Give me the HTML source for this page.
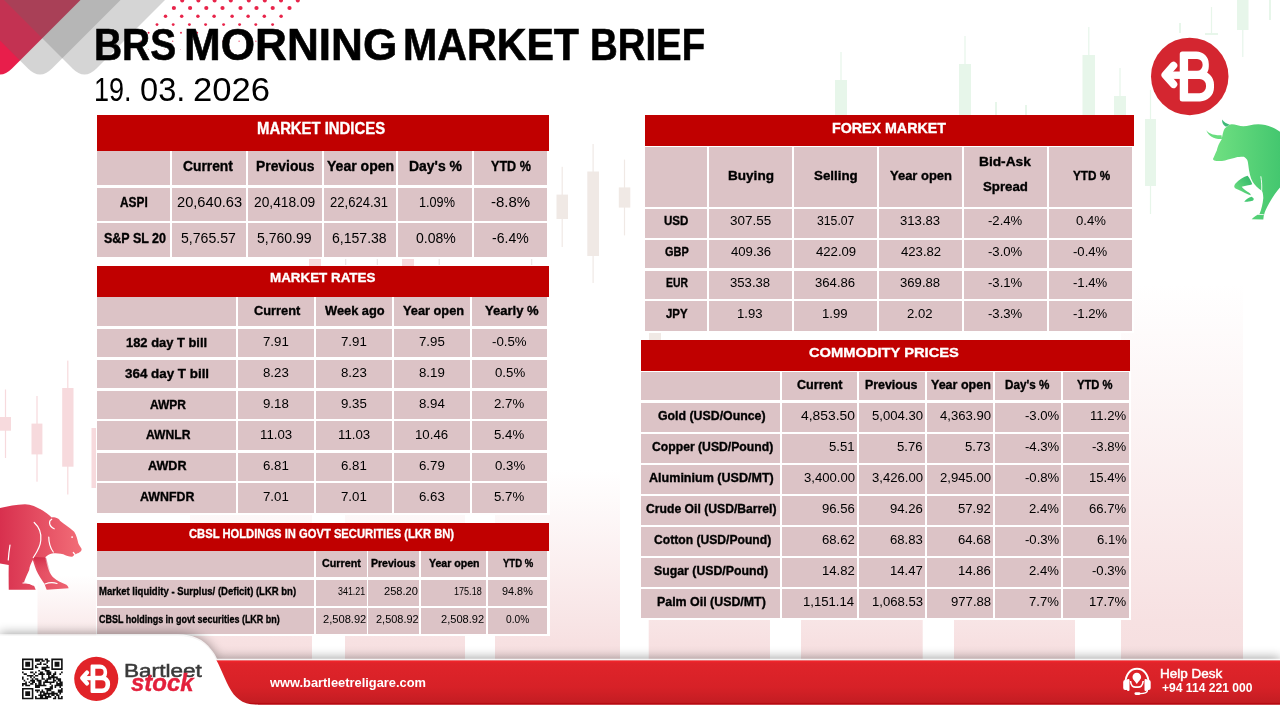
<!DOCTYPE html>
<html><head><meta charset="utf-8"><style>
html,body{margin:0;padding:0;}
body{width:1280px;height:720px;position:relative;overflow:hidden;background:#fff;font-family:"Liberation Sans",sans-serif;}
.w{position:absolute;white-space:nowrap;transform-origin:0 50%;}
</style></head><body>
<svg style="position:absolute;left:0;top:0" width="1280" height="720" viewBox="0 0 1280 720"><defs><linearGradient id="pbar" x1="0" y1="0" x2="0" y2="1"><stop offset="0" stop-color="#f8e3e4" stop-opacity="0"/><stop offset="0.9" stop-color="#f7e1e2" stop-opacity="1"/><stop offset="1" stop-color="#f6dfe0" stop-opacity="1"/></linearGradient><linearGradient id="shadow" x1="0" y1="0" x2="0" y2="1"><stop offset="0" stop-color="#000" stop-opacity="0"/><stop offset="1" stop-color="#000" stop-opacity="0.13"/></linearGradient></defs>
<rect x="37.5" y="575" width="59.5" height="85" fill="url(#pbar)"/>
<rect x="190" y="470" width="122.0" height="190" fill="url(#pbar)"/>
<rect x="345" y="470" width="120.0" height="190" fill="url(#pbar)"/>
<rect x="495" y="470" width="125.0" height="190" fill="url(#pbar)"/>
<rect x="648.7" y="470" width="121.3" height="190" fill="url(#pbar)"/>
<rect x="801" y="470" width="121.7" height="190" fill="url(#pbar)"/>
<rect x="954" y="470" width="121.0" height="190" fill="url(#pbar)"/>
<rect x="1121" y="284" width="122.0" height="376" fill="url(#pbar)"/><rect x="840.4" y="52" width="1.2" height="66.0" fill="#e7f6ea"/>
<rect x="835" y="80" width="12.0" height="38.0" fill="#e7f6ea"/>
<rect x="964.4" y="36" width="1.2" height="82.0" fill="#e7f6ea"/>
<rect x="959" y="64" width="12.0" height="54.0" fill="#e7f6ea"/>
<rect x="995.4" y="102" width="1.2" height="16.0" fill="#e7f6ea"/>
<rect x="995" y="102" width="2.0" height="16.0" fill="#e7f6ea"/>
<rect x="1025.4" y="105" width="1.2" height="13.0" fill="#e7f6ea"/>
<rect x="1025" y="105" width="2.0" height="13.0" fill="#e7f6ea"/>
<rect x="1088.2" y="27" width="1.2" height="91.0" fill="#e7f6ea"/>
<rect x="1082.5" y="55" width="12.5" height="63.0" fill="#e7f6ea"/>
<rect x="1119.4" y="68" width="1.2" height="50.0" fill="#e7f6ea"/>
<rect x="1114" y="96" width="12.0" height="22.0" fill="#e7f6ea"/>
<rect x="1149.9" y="90" width="1.2" height="124.0" fill="#e7f6ea"/>
<rect x="1145" y="119" width="11.0" height="67.0" fill="#e7f6ea"/>
<rect x="1242.2" y="0" width="1.2" height="57.0" fill="#e7f6ea"/>
<rect x="1237" y="0" width="11.5" height="30.0" fill="#e7f6ea"/>
<rect x="1210.9" y="7" width="1.2" height="28.0" fill="#e7f6ea"/>
<rect x="1205" y="33" width="13.0" height="2.0" fill="#e7f6ea"/>
<rect x="1179.4" y="23" width="1.2" height="10.0" fill="#e7f6ea"/>
<rect x="1179" y="23" width="2.0" height="10.0" fill="#e7f6ea"/>
<rect x="1269.4" y="0" width="1.2" height="20.0" fill="#e7f6ea"/>
<rect x="1269" y="0" width="2.0" height="20.0" fill="#e7f6ea"/>
<rect x="561.6" y="166.8" width="1.2" height="80.2" fill="#f0e9e5"/>
<rect x="556.5" y="194.6" width="11.5" height="24.4" fill="#f0e9e5"/>
<rect x="592.5" y="144" width="1.2" height="139.0" fill="#f0e9e5"/>
<rect x="587.3" y="171.5" width="11.7" height="84.5" fill="#f0e9e5"/>
<rect x="623.9" y="159.6" width="1.2" height="75.8" fill="#f0e9e5"/>
<rect x="618.8" y="187.4" width="11.5" height="20.2" fill="#f0e9e5"/>
<rect x="654.4" y="333" width="1.2" height="7.0" fill="#f0e9e5"/>
<rect x="649" y="333" width="12.0" height="7.0" fill="#f0e9e5"/>
<rect x="4.9" y="389.5" width="1.2" height="68.5" fill="#f7dadd"/>
<rect x="0" y="417" width="11.0" height="13.7" fill="#f7dadd"/>
<rect x="36.4" y="396" width="1.2" height="85.7" fill="#f7dadd"/>
<rect x="31.5" y="423.6" width="10.9" height="30.8" fill="#f7dadd"/>
<rect x="67.2" y="360.6" width="1.2" height="133.9" fill="#f7dadd"/>
<rect x="62.2" y="388" width="11.3" height="78.7" fill="#f7dadd"/>
<rect x="93.7" y="428" width="1.2" height="60.0" fill="#f7dadd"/>
<rect x="91.5" y="428" width="5.5" height="60.0" fill="#f7dadd"/>
<rect x="314.4" y="256" width="1.2" height="10.0" fill="#f7dadd"/>
<rect x="309" y="256" width="12.0" height="10.0" fill="#f7dadd"/>
<rect x="407.4" y="256" width="1.2" height="10.0" fill="#f7dadd"/>
<rect x="402" y="256" width="12.0" height="10.0" fill="#f7dadd"/>
<rect x="345.0" y="259" width="1.2" height="6.0" fill="#ece6e6"/>
<rect x="345.1" y="259" width="1.0" height="6.0" fill="#ece6e6"/>
<rect x="376.8" y="259" width="1.2" height="6.0" fill="#ece6e6"/>
<rect x="376.9" y="259" width="1.0" height="6.0" fill="#ece6e6"/>
<rect x="438.7" y="259" width="1.2" height="6.0" fill="#ece6e6"/>
<rect x="438.8" y="259" width="1.0" height="6.0" fill="#ece6e6"/>
<rect x="531.0" y="259" width="1.2" height="6.0" fill="#ece6e6"/>
<rect x="531.1" y="259" width="1.0" height="6.0" fill="#ece6e6"/><defs><linearGradient id="redg" x1="0" y1="1" x2="1" y2="0"><stop offset="0" stop-color="#ec1a4c"/><stop offset="1" stop-color="#d22a55"/></linearGradient></defs>
<path d="M-260.00,-179.50 L-12.02,68.48 Q0.00,80.50 12.02,68.48 L260.00,-179.50 Z" fill="#e81e4b" />
<path d="M-220.00,-179.50 L27.98,68.48 Q40.00,80.50 52.02,68.48 L300.00,-179.50 Z" fill="rgba(101,101,101,0.282)" />
<path d="M-175.50,-179.50 L72.48,68.48 Q84.50,80.50 96.52,68.48 L344.50,-179.50 Z" fill="rgba(101,101,101,0.275)" /><g fill="#e8244a"><circle cx="182.2" cy="0.4" r="2.0"/><circle cx="198.4" cy="0.4" r="2.0"/><circle cx="214.6" cy="0.4" r="2.0"/><circle cx="230.8" cy="0.4" r="2.0"/><circle cx="248.8" cy="0.4" r="2.0"/><circle cx="264.8" cy="0.4" r="2.0"/><circle cx="281.0" cy="0.4" r="2.0"/><circle cx="297.8" cy="0.4" r="2.0"/><circle cx="173.9" cy="8" r="2.1"/><circle cx="190.1" cy="8" r="2.1"/><circle cx="206.3" cy="8" r="2.1"/><circle cx="222.5" cy="8" r="2.1"/><circle cx="240.5" cy="8" r="2.1"/><circle cx="256.5" cy="8" r="2.1"/><circle cx="272.7" cy="8" r="2.1"/><circle cx="289.5" cy="8" r="2.1"/><circle cx="165.5" cy="16.3" r="1.75"/><circle cx="181.7" cy="16.3" r="1.75"/><circle cx="197.9" cy="16.3" r="1.75"/><circle cx="214.1" cy="16.3" r="1.75"/><circle cx="232.1" cy="16.3" r="1.75"/><circle cx="248.1" cy="16.3" r="1.75"/><circle cx="264.3" cy="16.3" r="1.75"/><circle cx="281.1" cy="16.3" r="1.75"/><circle cx="157.0" cy="24.6" r="1.45"/><circle cx="173.2" cy="24.6" r="1.45"/><circle cx="189.4" cy="24.6" r="1.45"/><circle cx="205.6" cy="24.6" r="1.45"/><circle cx="223.6" cy="24.6" r="1.45"/><circle cx="239.6" cy="24.6" r="1.45"/><circle cx="255.8" cy="24.6" r="1.45"/><circle cx="272.6" cy="24.6" r="1.45"/><circle cx="148.6" cy="32.8" r="0.95"/><circle cx="164.8" cy="32.8" r="0.95"/><circle cx="181.0" cy="32.8" r="0.95"/><circle cx="197.2" cy="32.8" r="0.95"/><circle cx="215.2" cy="32.8" r="0.95"/><circle cx="231.2" cy="32.8" r="0.95"/><circle cx="247.4" cy="32.8" r="0.95"/><circle cx="264.2" cy="32.8" r="0.95"/><circle cx="140.3" cy="41.2" r="0.6"/><circle cx="156.5" cy="41.2" r="0.6"/><circle cx="172.7" cy="41.2" r="0.6"/><circle cx="188.9" cy="41.2" r="0.6"/><circle cx="206.9" cy="41.2" r="0.6"/><circle cx="222.9" cy="41.2" r="0.6"/><circle cx="239.1" cy="41.2" r="0.6"/><circle cx="255.9" cy="41.2" r="0.6"/><circle cx="132.0" cy="49.4" r="0.35"/><circle cx="148.2" cy="49.4" r="0.35"/><circle cx="164.4" cy="49.4" r="0.35"/><circle cx="180.6" cy="49.4" r="0.35"/><circle cx="198.6" cy="49.4" r="0.35"/><circle cx="214.6" cy="49.4" r="0.35"/><circle cx="230.8" cy="49.4" r="0.35"/><circle cx="247.6" cy="49.4" r="0.35"/></g></svg>
<div style="position:absolute;left:96.00px;top:150.80px;width:453.50px;height:108.60px;background:#fff;"></div>
<div style="position:absolute;left:97.00px;top:115.00px;width:452.00px;height:35.80px;background:#c00000;"></div>
<div style="position:absolute;left:97.00px;top:151.30px;width:73.00px;height:33.45px;background:#dcc3c6;"></div>
<div style="position:absolute;left:172.00px;top:151.30px;width:74.00px;height:33.45px;background:#dcc3c6;"></div>
<div style="position:absolute;left:248.00px;top:151.30px;width:73.50px;height:33.45px;background:#dcc3c6;"></div>
<div style="position:absolute;left:323.50px;top:151.30px;width:72.50px;height:33.45px;background:#dcc3c6;"></div>
<div style="position:absolute;left:398.00px;top:151.30px;width:74.00px;height:33.45px;background:#dcc3c6;"></div>
<div style="position:absolute;left:474.00px;top:151.30px;width:73.00px;height:33.45px;background:#dcc3c6;"></div>
<div style="position:absolute;left:97.00px;top:187.90px;width:73.00px;height:32.70px;background:#dcc3c6;"></div>
<div style="position:absolute;left:172.00px;top:187.90px;width:74.00px;height:32.70px;background:#dcc3c6;"></div>
<div style="position:absolute;left:248.00px;top:187.90px;width:73.50px;height:32.70px;background:#dcc3c6;"></div>
<div style="position:absolute;left:323.50px;top:187.90px;width:72.50px;height:32.70px;background:#dcc3c6;"></div>
<div style="position:absolute;left:398.00px;top:187.90px;width:74.00px;height:32.70px;background:#dcc3c6;"></div>
<div style="position:absolute;left:474.00px;top:187.90px;width:73.00px;height:32.70px;background:#dcc3c6;"></div>
<div style="position:absolute;left:97.00px;top:223.10px;width:73.00px;height:33.80px;background:#dcc3c6;"></div>
<div style="position:absolute;left:172.00px;top:223.10px;width:74.00px;height:33.80px;background:#dcc3c6;"></div>
<div style="position:absolute;left:248.00px;top:223.10px;width:73.50px;height:33.80px;background:#dcc3c6;"></div>
<div style="position:absolute;left:323.50px;top:223.10px;width:72.50px;height:33.80px;background:#dcc3c6;"></div>
<div style="position:absolute;left:398.00px;top:223.10px;width:74.00px;height:33.80px;background:#dcc3c6;"></div>
<div style="position:absolute;left:474.00px;top:223.10px;width:73.00px;height:33.80px;background:#dcc3c6;"></div>
<div style="position:absolute;left:96.00px;top:296.70px;width:453.50px;height:218.80px;background:#fff;"></div>
<div style="position:absolute;left:97.00px;top:266.10px;width:452.00px;height:30.60px;background:#c00000;"></div>
<div style="position:absolute;left:97.00px;top:297.40px;width:139.00px;height:28.70px;background:#dcc3c6;"></div>
<div style="position:absolute;left:238.00px;top:297.40px;width:76.00px;height:28.70px;background:#dcc3c6;"></div>
<div style="position:absolute;left:316.00px;top:297.40px;width:76.00px;height:28.70px;background:#dcc3c6;"></div>
<div style="position:absolute;left:394.00px;top:297.40px;width:76.00px;height:28.70px;background:#dcc3c6;"></div>
<div style="position:absolute;left:472.00px;top:297.40px;width:75.00px;height:28.70px;background:#dcc3c6;"></div>
<div style="position:absolute;left:97.00px;top:328.90px;width:139.00px;height:28.60px;background:#dcc3c6;"></div>
<div style="position:absolute;left:238.00px;top:328.90px;width:76.00px;height:28.60px;background:#dcc3c6;"></div>
<div style="position:absolute;left:316.00px;top:328.90px;width:76.00px;height:28.60px;background:#dcc3c6;"></div>
<div style="position:absolute;left:394.00px;top:328.90px;width:76.00px;height:28.60px;background:#dcc3c6;"></div>
<div style="position:absolute;left:472.00px;top:328.90px;width:75.00px;height:28.60px;background:#dcc3c6;"></div>
<div style="position:absolute;left:97.00px;top:359.70px;width:139.00px;height:28.30px;background:#dcc3c6;"></div>
<div style="position:absolute;left:238.00px;top:359.70px;width:76.00px;height:28.30px;background:#dcc3c6;"></div>
<div style="position:absolute;left:316.00px;top:359.70px;width:76.00px;height:28.30px;background:#dcc3c6;"></div>
<div style="position:absolute;left:394.00px;top:359.70px;width:76.00px;height:28.30px;background:#dcc3c6;"></div>
<div style="position:absolute;left:472.00px;top:359.70px;width:75.00px;height:28.30px;background:#dcc3c6;"></div>
<div style="position:absolute;left:97.00px;top:390.80px;width:139.00px;height:28.40px;background:#dcc3c6;"></div>
<div style="position:absolute;left:238.00px;top:390.80px;width:76.00px;height:28.40px;background:#dcc3c6;"></div>
<div style="position:absolute;left:316.00px;top:390.80px;width:76.00px;height:28.40px;background:#dcc3c6;"></div>
<div style="position:absolute;left:394.00px;top:390.80px;width:76.00px;height:28.40px;background:#dcc3c6;"></div>
<div style="position:absolute;left:472.00px;top:390.80px;width:75.00px;height:28.40px;background:#dcc3c6;"></div>
<div style="position:absolute;left:97.00px;top:421.40px;width:139.00px;height:28.60px;background:#dcc3c6;"></div>
<div style="position:absolute;left:238.00px;top:421.40px;width:76.00px;height:28.60px;background:#dcc3c6;"></div>
<div style="position:absolute;left:316.00px;top:421.40px;width:76.00px;height:28.60px;background:#dcc3c6;"></div>
<div style="position:absolute;left:394.00px;top:421.40px;width:76.00px;height:28.60px;background:#dcc3c6;"></div>
<div style="position:absolute;left:472.00px;top:421.40px;width:75.00px;height:28.60px;background:#dcc3c6;"></div>
<div style="position:absolute;left:97.00px;top:452.50px;width:139.00px;height:28.50px;background:#dcc3c6;"></div>
<div style="position:absolute;left:238.00px;top:452.50px;width:76.00px;height:28.50px;background:#dcc3c6;"></div>
<div style="position:absolute;left:316.00px;top:452.50px;width:76.00px;height:28.50px;background:#dcc3c6;"></div>
<div style="position:absolute;left:394.00px;top:452.50px;width:76.00px;height:28.50px;background:#dcc3c6;"></div>
<div style="position:absolute;left:472.00px;top:452.50px;width:75.00px;height:28.50px;background:#dcc3c6;"></div>
<div style="position:absolute;left:97.00px;top:483.30px;width:139.00px;height:29.70px;background:#dcc3c6;"></div>
<div style="position:absolute;left:238.00px;top:483.30px;width:76.00px;height:29.70px;background:#dcc3c6;"></div>
<div style="position:absolute;left:316.00px;top:483.30px;width:76.00px;height:29.70px;background:#dcc3c6;"></div>
<div style="position:absolute;left:394.00px;top:483.30px;width:76.00px;height:29.70px;background:#dcc3c6;"></div>
<div style="position:absolute;left:472.00px;top:483.30px;width:75.00px;height:29.70px;background:#dcc3c6;"></div>
<div style="position:absolute;left:96.00px;top:550.60px;width:453.50px;height:85.70px;background:#fff;"></div>
<div style="position:absolute;left:97.00px;top:522.90px;width:452.00px;height:27.70px;background:#c00000;"></div>
<div style="position:absolute;left:97.00px;top:551.40px;width:217.00px;height:26.10px;background:#dcc3c6;"></div>
<div style="position:absolute;left:316.00px;top:551.40px;width:50.50px;height:26.10px;background:#dcc3c6;"></div>
<div style="position:absolute;left:368.00px;top:551.40px;width:51.00px;height:26.10px;background:#dcc3c6;"></div>
<div style="position:absolute;left:421.00px;top:551.40px;width:65.00px;height:26.10px;background:#dcc3c6;"></div>
<div style="position:absolute;left:488.00px;top:551.40px;width:59.00px;height:26.10px;background:#dcc3c6;"></div>
<div style="position:absolute;left:97.00px;top:580.20px;width:217.00px;height:25.50px;background:#dcc3c6;"></div>
<div style="position:absolute;left:316.00px;top:580.20px;width:50.50px;height:25.50px;background:#dcc3c6;"></div>
<div style="position:absolute;left:368.00px;top:580.20px;width:51.00px;height:25.50px;background:#dcc3c6;"></div>
<div style="position:absolute;left:421.00px;top:580.20px;width:65.00px;height:25.50px;background:#dcc3c6;"></div>
<div style="position:absolute;left:488.00px;top:580.20px;width:59.00px;height:25.50px;background:#dcc3c6;"></div>
<div style="position:absolute;left:97.00px;top:607.90px;width:217.00px;height:25.90px;background:#dcc3c6;"></div>
<div style="position:absolute;left:316.00px;top:607.90px;width:50.50px;height:25.90px;background:#dcc3c6;"></div>
<div style="position:absolute;left:368.00px;top:607.90px;width:51.00px;height:25.90px;background:#dcc3c6;"></div>
<div style="position:absolute;left:421.00px;top:607.90px;width:65.00px;height:25.90px;background:#dcc3c6;"></div>
<div style="position:absolute;left:488.00px;top:607.90px;width:59.00px;height:25.90px;background:#dcc3c6;"></div>
<div style="position:absolute;left:644.00px;top:145.80px;width:490.00px;height:187.60px;background:#fff;"></div>
<div style="position:absolute;left:645.00px;top:115.00px;width:488.80px;height:30.80px;background:#c00000;"></div>
<div style="position:absolute;left:645.00px;top:146.70px;width:62.00px;height:60.00px;background:#dcc3c6;"></div>
<div style="position:absolute;left:709.00px;top:146.70px;width:83.00px;height:60.00px;background:#dcc3c6;"></div>
<div style="position:absolute;left:794.00px;top:146.70px;width:83.00px;height:60.00px;background:#dcc3c6;"></div>
<div style="position:absolute;left:879.00px;top:146.70px;width:83.00px;height:60.00px;background:#dcc3c6;"></div>
<div style="position:absolute;left:964.00px;top:146.70px;width:83.00px;height:60.00px;background:#dcc3c6;"></div>
<div style="position:absolute;left:1049.00px;top:146.70px;width:82.50px;height:60.00px;background:#dcc3c6;"></div>
<div style="position:absolute;left:645.00px;top:208.70px;width:62.00px;height:29.00px;background:#dcc3c6;"></div>
<div style="position:absolute;left:709.00px;top:208.70px;width:83.00px;height:29.00px;background:#dcc3c6;"></div>
<div style="position:absolute;left:794.00px;top:208.70px;width:83.00px;height:29.00px;background:#dcc3c6;"></div>
<div style="position:absolute;left:879.00px;top:208.70px;width:83.00px;height:29.00px;background:#dcc3c6;"></div>
<div style="position:absolute;left:964.00px;top:208.70px;width:83.00px;height:29.00px;background:#dcc3c6;"></div>
<div style="position:absolute;left:1049.00px;top:208.70px;width:82.50px;height:29.00px;background:#dcc3c6;"></div>
<div style="position:absolute;left:645.00px;top:239.70px;width:62.00px;height:28.80px;background:#dcc3c6;"></div>
<div style="position:absolute;left:709.00px;top:239.70px;width:83.00px;height:28.80px;background:#dcc3c6;"></div>
<div style="position:absolute;left:794.00px;top:239.70px;width:83.00px;height:28.80px;background:#dcc3c6;"></div>
<div style="position:absolute;left:879.00px;top:239.70px;width:83.00px;height:28.80px;background:#dcc3c6;"></div>
<div style="position:absolute;left:964.00px;top:239.70px;width:83.00px;height:28.80px;background:#dcc3c6;"></div>
<div style="position:absolute;left:1049.00px;top:239.70px;width:82.50px;height:28.80px;background:#dcc3c6;"></div>
<div style="position:absolute;left:645.00px;top:270.50px;width:62.00px;height:28.80px;background:#dcc3c6;"></div>
<div style="position:absolute;left:709.00px;top:270.50px;width:83.00px;height:28.80px;background:#dcc3c6;"></div>
<div style="position:absolute;left:794.00px;top:270.50px;width:83.00px;height:28.80px;background:#dcc3c6;"></div>
<div style="position:absolute;left:879.00px;top:270.50px;width:83.00px;height:28.80px;background:#dcc3c6;"></div>
<div style="position:absolute;left:964.00px;top:270.50px;width:83.00px;height:28.80px;background:#dcc3c6;"></div>
<div style="position:absolute;left:1049.00px;top:270.50px;width:82.50px;height:28.80px;background:#dcc3c6;"></div>
<div style="position:absolute;left:645.00px;top:301.30px;width:62.00px;height:29.60px;background:#dcc3c6;"></div>
<div style="position:absolute;left:709.00px;top:301.30px;width:83.00px;height:29.60px;background:#dcc3c6;"></div>
<div style="position:absolute;left:794.00px;top:301.30px;width:83.00px;height:29.60px;background:#dcc3c6;"></div>
<div style="position:absolute;left:879.00px;top:301.30px;width:83.00px;height:29.60px;background:#dcc3c6;"></div>
<div style="position:absolute;left:964.00px;top:301.30px;width:83.00px;height:29.60px;background:#dcc3c6;"></div>
<div style="position:absolute;left:1049.00px;top:301.30px;width:82.50px;height:29.60px;background:#dcc3c6;"></div>
<div style="position:absolute;left:640.00px;top:370.80px;width:491.00px;height:249.40px;background:#fff;"></div>
<div style="position:absolute;left:641.00px;top:340.00px;width:489.00px;height:30.80px;background:#c00000;"></div>
<div style="position:absolute;left:641.00px;top:371.70px;width:139.00px;height:28.70px;background:#dcc3c6;"></div>
<div style="position:absolute;left:782.00px;top:371.70px;width:75.00px;height:28.70px;background:#dcc3c6;"></div>
<div style="position:absolute;left:859.00px;top:371.70px;width:66.00px;height:28.70px;background:#dcc3c6;"></div>
<div style="position:absolute;left:927.00px;top:371.70px;width:66.00px;height:28.70px;background:#dcc3c6;"></div>
<div style="position:absolute;left:995.00px;top:371.70px;width:66.00px;height:28.70px;background:#dcc3c6;"></div>
<div style="position:absolute;left:1063.00px;top:371.70px;width:65.50px;height:28.70px;background:#dcc3c6;"></div>
<div style="position:absolute;left:641.00px;top:403.00px;width:139.00px;height:28.70px;background:#dcc3c6;"></div>
<div style="position:absolute;left:782.00px;top:403.00px;width:75.00px;height:28.70px;background:#dcc3c6;"></div>
<div style="position:absolute;left:859.00px;top:403.00px;width:66.00px;height:28.70px;background:#dcc3c6;"></div>
<div style="position:absolute;left:927.00px;top:403.00px;width:66.00px;height:28.70px;background:#dcc3c6;"></div>
<div style="position:absolute;left:995.00px;top:403.00px;width:66.00px;height:28.70px;background:#dcc3c6;"></div>
<div style="position:absolute;left:1063.00px;top:403.00px;width:65.50px;height:28.70px;background:#dcc3c6;"></div>
<div style="position:absolute;left:641.00px;top:434.00px;width:139.00px;height:28.70px;background:#dcc3c6;"></div>
<div style="position:absolute;left:782.00px;top:434.00px;width:75.00px;height:28.70px;background:#dcc3c6;"></div>
<div style="position:absolute;left:859.00px;top:434.00px;width:66.00px;height:28.70px;background:#dcc3c6;"></div>
<div style="position:absolute;left:927.00px;top:434.00px;width:66.00px;height:28.70px;background:#dcc3c6;"></div>
<div style="position:absolute;left:995.00px;top:434.00px;width:66.00px;height:28.70px;background:#dcc3c6;"></div>
<div style="position:absolute;left:1063.00px;top:434.00px;width:65.50px;height:28.70px;background:#dcc3c6;"></div>
<div style="position:absolute;left:641.00px;top:465.00px;width:139.00px;height:28.70px;background:#dcc3c6;"></div>
<div style="position:absolute;left:782.00px;top:465.00px;width:75.00px;height:28.70px;background:#dcc3c6;"></div>
<div style="position:absolute;left:859.00px;top:465.00px;width:66.00px;height:28.70px;background:#dcc3c6;"></div>
<div style="position:absolute;left:927.00px;top:465.00px;width:66.00px;height:28.70px;background:#dcc3c6;"></div>
<div style="position:absolute;left:995.00px;top:465.00px;width:66.00px;height:28.70px;background:#dcc3c6;"></div>
<div style="position:absolute;left:1063.00px;top:465.00px;width:65.50px;height:28.70px;background:#dcc3c6;"></div>
<div style="position:absolute;left:641.00px;top:496.00px;width:139.00px;height:28.70px;background:#dcc3c6;"></div>
<div style="position:absolute;left:782.00px;top:496.00px;width:75.00px;height:28.70px;background:#dcc3c6;"></div>
<div style="position:absolute;left:859.00px;top:496.00px;width:66.00px;height:28.70px;background:#dcc3c6;"></div>
<div style="position:absolute;left:927.00px;top:496.00px;width:66.00px;height:28.70px;background:#dcc3c6;"></div>
<div style="position:absolute;left:995.00px;top:496.00px;width:66.00px;height:28.70px;background:#dcc3c6;"></div>
<div style="position:absolute;left:1063.00px;top:496.00px;width:65.50px;height:28.70px;background:#dcc3c6;"></div>
<div style="position:absolute;left:641.00px;top:527.00px;width:139.00px;height:28.70px;background:#dcc3c6;"></div>
<div style="position:absolute;left:782.00px;top:527.00px;width:75.00px;height:28.70px;background:#dcc3c6;"></div>
<div style="position:absolute;left:859.00px;top:527.00px;width:66.00px;height:28.70px;background:#dcc3c6;"></div>
<div style="position:absolute;left:927.00px;top:527.00px;width:66.00px;height:28.70px;background:#dcc3c6;"></div>
<div style="position:absolute;left:995.00px;top:527.00px;width:66.00px;height:28.70px;background:#dcc3c6;"></div>
<div style="position:absolute;left:1063.00px;top:527.00px;width:65.50px;height:28.70px;background:#dcc3c6;"></div>
<div style="position:absolute;left:641.00px;top:558.00px;width:139.00px;height:28.70px;background:#dcc3c6;"></div>
<div style="position:absolute;left:782.00px;top:558.00px;width:75.00px;height:28.70px;background:#dcc3c6;"></div>
<div style="position:absolute;left:859.00px;top:558.00px;width:66.00px;height:28.70px;background:#dcc3c6;"></div>
<div style="position:absolute;left:927.00px;top:558.00px;width:66.00px;height:28.70px;background:#dcc3c6;"></div>
<div style="position:absolute;left:995.00px;top:558.00px;width:66.00px;height:28.70px;background:#dcc3c6;"></div>
<div style="position:absolute;left:1063.00px;top:558.00px;width:65.50px;height:28.70px;background:#dcc3c6;"></div>
<div style="position:absolute;left:641.00px;top:589.00px;width:139.00px;height:28.70px;background:#dcc3c6;"></div>
<div style="position:absolute;left:782.00px;top:589.00px;width:75.00px;height:28.70px;background:#dcc3c6;"></div>
<div style="position:absolute;left:859.00px;top:589.00px;width:66.00px;height:28.70px;background:#dcc3c6;"></div>
<div style="position:absolute;left:927.00px;top:589.00px;width:66.00px;height:28.70px;background:#dcc3c6;"></div>
<div style="position:absolute;left:995.00px;top:589.00px;width:66.00px;height:28.70px;background:#dcc3c6;"></div>
<div style="position:absolute;left:1063.00px;top:589.00px;width:65.50px;height:28.70px;background:#dcc3c6;"></div>
<div class="w" style="left:256.67px;top:121.26px;font-size:16px;line-height:16px;font-weight:700;font-style:normal;color:#fff;transform:scaleX(0.9294);-webkit-text-stroke:0.35px #fff;">MARKET INDICES</div>
<div class="w" style="left:183.41px;top:159.15px;font-size:14px;line-height:14px;font-weight:700;font-style:normal;color:#000;transform:scaleX(0.9870);-webkit-text-stroke:0.35px #000;">Current</div>
<div class="w" style="left:255.51px;top:159.15px;font-size:14px;line-height:14px;font-weight:700;font-style:normal;color:#000;transform:scaleX(0.9897);-webkit-text-stroke:0.35px #000;">Previous</div>
<div class="w" style="left:327.20px;top:159.15px;font-size:14px;line-height:14px;font-weight:700;font-style:normal;color:#000;transform:scaleX(1.0030);-webkit-text-stroke:0.35px #000;">Year open</div>
<div class="w" style="left:409.30px;top:159.15px;font-size:14px;line-height:14px;font-weight:700;font-style:normal;color:#000;transform:scaleX(0.9962);-webkit-text-stroke:0.35px #000;">Day's %</div>
<div class="w" style="left:491.10px;top:159.15px;font-size:14px;line-height:14px;font-weight:700;font-style:normal;color:#000;transform:scaleX(0.8977);-webkit-text-stroke:0.35px #000;">YTD %</div>
<div class="w" style="left:120.20px;top:195.15px;font-size:14px;line-height:14px;font-weight:700;font-style:normal;color:#000;transform:scaleX(0.8469);-webkit-text-stroke:0.35px #000;">ASPI</div>
<div class="w" style="left:177.05px;top:195.15px;font-size:14px;line-height:14px;font-weight:400;font-style:normal;color:#000;transform:scaleX(1.0459);">20,640.63</div>
<div class="w" style="left:254.32px;top:195.15px;font-size:14px;line-height:14px;font-weight:400;font-style:normal;color:#000;transform:scaleX(0.9836);">20,418.09</div>
<div class="w" style="left:330.32px;top:195.15px;font-size:14px;line-height:14px;font-weight:400;font-style:normal;color:#000;transform:scaleX(0.9320);">22,624.31</div>
<div class="w" style="left:418.50px;top:195.15px;font-size:14px;line-height:14px;font-weight:400;font-style:normal;color:#000;transform:scaleX(0.9039);">1.09%</div>
<div class="w" style="left:491.13px;top:195.15px;font-size:14px;line-height:14px;font-weight:400;font-style:normal;color:#000;transform:scaleX(1.0714);">-8.8%</div>
<div class="w" style="left:103.51px;top:231.05px;font-size:14px;line-height:14px;font-weight:700;font-style:normal;color:#000;transform:scaleX(0.8912);-webkit-text-stroke:0.35px #000;">S&amp;P SL 20</div>
<div class="w" style="left:181.39px;top:231.05px;font-size:14px;line-height:14px;font-weight:400;font-style:normal;color:#000;transform:scaleX(1.0057);">5,765.57</div>
<div class="w" style="left:257.25px;top:231.05px;font-size:14px;line-height:14px;font-weight:400;font-style:normal;color:#000;transform:scaleX(1.0030);">5,760.99</div>
<div class="w" style="left:332.25px;top:231.05px;font-size:14px;line-height:14px;font-weight:400;font-style:normal;color:#000;transform:scaleX(1.0030);">6,157.38</div>
<div class="w" style="left:415.50px;top:231.05px;font-size:14px;line-height:14px;font-weight:400;font-style:normal;color:#000;transform:scaleX(1.0030);">0.08%</div>
<div class="w" style="left:492.00px;top:231.05px;font-size:14px;line-height:14px;font-weight:400;font-style:normal;color:#000;transform:scaleX(1.0030);">-6.4%</div>
<div class="w" style="left:270.21px;top:271.37px;font-size:13.5px;line-height:13.5px;font-weight:700;font-style:normal;color:#fff;transform:scaleX(0.9914);-webkit-text-stroke:0.35px #fff;">MARKET RATES</div>
<div class="w" style="left:253.50px;top:304.30px;font-size:13px;line-height:13px;font-weight:700;font-style:normal;color:#000;transform:scaleX(0.9872);-webkit-text-stroke:0.35px #000;">Current</div>
<div class="w" style="left:325.00px;top:304.30px;font-size:13px;line-height:13px;font-weight:700;font-style:normal;color:#000;transform:scaleX(0.9867);-webkit-text-stroke:0.35px #000;">Week ago</div>
<div class="w" style="left:402.50px;top:304.30px;font-size:13px;line-height:13px;font-weight:700;font-style:normal;color:#000;transform:scaleX(0.9823);-webkit-text-stroke:0.35px #000;">Year open</div>
<div class="w" style="left:484.60px;top:304.30px;font-size:13px;line-height:13px;font-weight:700;font-style:normal;color:#000;transform:scaleX(1.0030);-webkit-text-stroke:0.35px #000;">Yearly %</div>
<div class="w" style="left:125.71px;top:335.75px;font-size:13px;line-height:13px;font-weight:700;font-style:normal;color:#000;transform:scaleX(0.9937);-webkit-text-stroke:0.35px #000;">182 day T bill</div>
<div class="w" style="left:262.75px;top:336.17px;font-size:12.5px;line-height:12.5px;font-weight:400;font-style:normal;color:#000;transform:scaleX(1.0600);">7.91</div>
<div class="w" style="left:340.75px;top:336.17px;font-size:12.5px;line-height:12.5px;font-weight:400;font-style:normal;color:#000;transform:scaleX(1.0600);">7.91</div>
<div class="w" style="left:418.75px;top:336.17px;font-size:12.5px;line-height:12.5px;font-weight:400;font-style:normal;color:#000;transform:scaleX(1.0600);">7.95</div>
<div class="w" style="left:492.01px;top:336.17px;font-size:12.5px;line-height:12.5px;font-weight:400;font-style:normal;color:#000;transform:scaleX(1.0600);">-0.5%</div>
<div class="w" style="left:124.87px;top:366.55px;font-size:13px;line-height:13px;font-weight:700;font-style:normal;color:#000;transform:scaleX(1.0300);-webkit-text-stroke:0.35px #000;">364 day T bill</div>
<div class="w" style="left:262.75px;top:366.97px;font-size:12.5px;line-height:12.5px;font-weight:400;font-style:normal;color:#000;transform:scaleX(1.0600);">8.23</div>
<div class="w" style="left:340.75px;top:366.97px;font-size:12.5px;line-height:12.5px;font-weight:400;font-style:normal;color:#000;transform:scaleX(1.0600);">8.23</div>
<div class="w" style="left:418.75px;top:366.97px;font-size:12.5px;line-height:12.5px;font-weight:400;font-style:normal;color:#000;transform:scaleX(1.0600);">8.19</div>
<div class="w" style="left:494.66px;top:366.97px;font-size:12.5px;line-height:12.5px;font-weight:400;font-style:normal;color:#000;transform:scaleX(1.0600);">0.5%</div>
<div class="w" style="left:149.50px;top:397.65px;font-size:13px;line-height:13px;font-weight:700;font-style:normal;color:#000;transform:scaleX(0.9231);-webkit-text-stroke:0.35px #000;">AWPR</div>
<div class="w" style="left:262.75px;top:398.07px;font-size:12.5px;line-height:12.5px;font-weight:400;font-style:normal;color:#000;transform:scaleX(1.0600);">9.18</div>
<div class="w" style="left:340.75px;top:398.07px;font-size:12.5px;line-height:12.5px;font-weight:400;font-style:normal;color:#000;transform:scaleX(1.0600);">9.35</div>
<div class="w" style="left:418.75px;top:398.07px;font-size:12.5px;line-height:12.5px;font-weight:400;font-style:normal;color:#000;transform:scaleX(1.0600);">8.94</div>
<div class="w" style="left:494.13px;top:398.07px;font-size:12.5px;line-height:12.5px;font-weight:400;font-style:normal;color:#000;transform:scaleX(1.0600);">2.7%</div>
<div class="w" style="left:145.60px;top:428.25px;font-size:13px;line-height:13px;font-weight:700;font-style:normal;color:#000;transform:scaleX(0.9319);-webkit-text-stroke:0.35px #000;">AWNLR</div>
<div class="w" style="left:259.57px;top:428.67px;font-size:12.5px;line-height:12.5px;font-weight:400;font-style:normal;color:#000;transform:scaleX(1.0600);">11.03</div>
<div class="w" style="left:337.57px;top:428.67px;font-size:12.5px;line-height:12.5px;font-weight:400;font-style:normal;color:#000;transform:scaleX(1.0600);">11.03</div>
<div class="w" style="left:415.04px;top:428.67px;font-size:12.5px;line-height:12.5px;font-weight:400;font-style:normal;color:#000;transform:scaleX(1.0600);">10.46</div>
<div class="w" style="left:494.13px;top:428.67px;font-size:12.5px;line-height:12.5px;font-weight:400;font-style:normal;color:#000;transform:scaleX(1.0600);">5.4%</div>
<div class="w" style="left:148.40px;top:459.35px;font-size:13px;line-height:13px;font-weight:700;font-style:normal;color:#000;transform:scaleX(0.9692);-webkit-text-stroke:0.35px #000;">AWDR</div>
<div class="w" style="left:262.75px;top:459.77px;font-size:12.5px;line-height:12.5px;font-weight:400;font-style:normal;color:#000;transform:scaleX(1.0600);">6.81</div>
<div class="w" style="left:340.75px;top:459.77px;font-size:12.5px;line-height:12.5px;font-weight:400;font-style:normal;color:#000;transform:scaleX(1.0600);">6.81</div>
<div class="w" style="left:418.75px;top:459.77px;font-size:12.5px;line-height:12.5px;font-weight:400;font-style:normal;color:#000;transform:scaleX(1.0600);">6.79</div>
<div class="w" style="left:494.66px;top:459.77px;font-size:12.5px;line-height:12.5px;font-weight:400;font-style:normal;color:#000;transform:scaleX(1.0600);">0.3%</div>
<div class="w" style="left:140.30px;top:490.15px;font-size:13px;line-height:13px;font-weight:700;font-style:normal;color:#000;transform:scaleX(0.9526);-webkit-text-stroke:0.35px #000;">AWNFDR</div>
<div class="w" style="left:262.75px;top:490.57px;font-size:12.5px;line-height:12.5px;font-weight:400;font-style:normal;color:#000;transform:scaleX(1.0600);">7.01</div>
<div class="w" style="left:340.75px;top:490.57px;font-size:12.5px;line-height:12.5px;font-weight:400;font-style:normal;color:#000;transform:scaleX(1.0600);">7.01</div>
<div class="w" style="left:418.75px;top:490.57px;font-size:12.5px;line-height:12.5px;font-weight:400;font-style:normal;color:#000;transform:scaleX(1.0600);">6.63</div>
<div class="w" style="left:494.13px;top:490.57px;font-size:12.5px;line-height:12.5px;font-weight:400;font-style:normal;color:#000;transform:scaleX(1.0600);">5.7%</div>
<div class="w" style="left:189.20px;top:527.40px;font-size:13px;line-height:13px;font-weight:700;font-style:normal;color:#fff;transform:scaleX(0.8622);-webkit-text-stroke:0.35px #fff;">CBSL HOLDINGS IN GOVT SECURITIES (LKR BN)</div>
<div class="w" style="left:322.20px;top:558.11px;font-size:10.5px;line-height:10.5px;font-weight:700;font-style:normal;color:#000;transform:scaleX(1.0224);-webkit-text-stroke:0.35px #000;">Current</div>
<div class="w" style="left:371.40px;top:558.11px;font-size:10.5px;line-height:10.5px;font-weight:700;font-style:normal;color:#000;transform:scaleX(1.0030);-webkit-text-stroke:0.35px #000;">Previous</div>
<div class="w" style="left:429.00px;top:558.11px;font-size:10.5px;line-height:10.5px;font-weight:700;font-style:normal;color:#000;transform:scaleX(1.0080);-webkit-text-stroke:0.35px #000;">Year open</div>
<div class="w" style="left:503.20px;top:558.11px;font-size:10.5px;line-height:10.5px;font-weight:700;font-style:normal;color:#000;transform:scaleX(0.9061);-webkit-text-stroke:0.35px #000;">YTD %</div>
<div class="w" style="left:98.57px;top:585.87px;font-size:11.5px;line-height:11.5px;font-weight:700;font-style:normal;color:#000;transform:scaleX(0.8270);-webkit-text-stroke:0.35px #000;">Market liquidity - Surplus/ (Deficit) (LKR bn)</div>
<div class="w" style="left:338.43px;top:585.87px;font-size:11.5px;line-height:11.5px;font-weight:400;font-style:normal;color:#000;transform:scaleX(0.7735);">341.21</div>
<div class="w" style="left:384.14px;top:585.87px;font-size:11.5px;line-height:11.5px;font-weight:400;font-style:normal;color:#000;transform:scaleX(0.9647);">258.20</div>
<div class="w" style="left:454.21px;top:585.87px;font-size:11.5px;line-height:11.5px;font-weight:400;font-style:normal;color:#000;transform:scaleX(0.7882);">175.18</div>
<div class="w" style="left:502.25px;top:585.87px;font-size:11.5px;line-height:11.5px;font-weight:400;font-style:normal;color:#000;transform:scaleX(0.9452);">94.8%</div>
<div class="w" style="left:99.40px;top:614.47px;font-size:11.5px;line-height:11.5px;font-weight:700;font-style:normal;color:#000;transform:scaleX(0.7801);-webkit-text-stroke:0.35px #000;">CBSL holdings in govt securities (LKR bn)</div>
<div class="w" style="left:322.93px;top:614.47px;font-size:11.5px;line-height:11.5px;font-weight:400;font-style:normal;color:#000;transform:scaleX(0.9674);">2,508.92</div>
<div class="w" style="left:376.35px;top:614.47px;font-size:11.5px;line-height:11.5px;font-weight:400;font-style:normal;color:#000;transform:scaleX(0.9535);">2,508.92</div>
<div class="w" style="left:440.74px;top:614.47px;font-size:11.5px;line-height:11.5px;font-weight:400;font-style:normal;color:#000;transform:scaleX(0.9628);">2,508.92</div>
<div class="w" style="left:506.20px;top:614.47px;font-size:11.5px;line-height:11.5px;font-weight:400;font-style:normal;color:#000;transform:scaleX(0.8846);">0.0%</div>
<div class="w" style="left:831.62px;top:120.73px;font-size:14.5px;line-height:14.5px;font-weight:700;font-style:normal;color:#fff;transform:scaleX(0.9817);-webkit-text-stroke:0.35px #fff;">FOREX MARKET</div>
<div class="w" style="left:727.86px;top:168.50px;font-size:13px;line-height:13px;font-weight:700;font-style:normal;color:#000;transform:scaleX(1.0429);-webkit-text-stroke:0.35px #000;">Buying</div>
<div class="w" style="left:813.98px;top:168.50px;font-size:13px;line-height:13px;font-weight:700;font-style:normal;color:#000;transform:scaleX(1.0244);-webkit-text-stroke:0.35px #000;">Selling</div>
<div class="w" style="left:890.10px;top:168.50px;font-size:13px;line-height:13px;font-weight:700;font-style:normal;color:#000;transform:scaleX(0.9968);-webkit-text-stroke:0.35px #000;">Year open</div>
<div class="w" style="left:979.44px;top:155.20px;font-size:13px;line-height:13px;font-weight:700;font-style:normal;color:#000;transform:scaleX(1.0563);-webkit-text-stroke:0.35px #000;">Bid-Ask</div>
<div class="w" style="left:983.28px;top:180.00px;font-size:13px;line-height:13px;font-weight:700;font-style:normal;color:#000;transform:scaleX(1.0186);-webkit-text-stroke:0.35px #000;">Spread</div>
<div class="w" style="left:1073.10px;top:168.50px;font-size:13px;line-height:13px;font-weight:700;font-style:normal;color:#000;transform:scaleX(0.9024);-webkit-text-stroke:0.35px #000;">YTD %</div>
<div class="w" style="left:664.38px;top:215.32px;font-size:12.5px;line-height:12.5px;font-weight:700;font-style:normal;color:#000;transform:scaleX(0.9240);-webkit-text-stroke:0.35px #000;">USD</div>
<div class="w" style="left:730.22px;top:215.32px;font-size:12.5px;line-height:12.5px;font-weight:400;font-style:normal;color:#000;transform:scaleX(1.0784);">307.55</div>
<div class="w" style="left:817.22px;top:215.32px;font-size:12.5px;line-height:12.5px;font-weight:400;font-style:normal;color:#000;transform:scaleX(0.9784);">315.07</div>
<div class="w" style="left:900.03px;top:215.32px;font-size:12.5px;line-height:12.5px;font-weight:400;font-style:normal;color:#000;transform:scaleX(1.0500);">313.83</div>
<div class="w" style="left:988.18px;top:215.32px;font-size:12.5px;line-height:12.5px;font-weight:400;font-style:normal;color:#000;transform:scaleX(1.0500);">-2.4%</div>
<div class="w" style="left:1075.55px;top:215.32px;font-size:12.5px;line-height:12.5px;font-weight:400;font-style:normal;color:#000;transform:scaleX(1.0500);">0.4%</div>
<div class="w" style="left:665.30px;top:246.32px;font-size:12.5px;line-height:12.5px;font-weight:700;font-style:normal;color:#000;transform:scaleX(0.8741);-webkit-text-stroke:0.35px #000;">GBP</div>
<div class="w" style="left:730.55px;top:246.32px;font-size:12.5px;line-height:12.5px;font-weight:400;font-style:normal;color:#000;transform:scaleX(1.0500);">409.36</div>
<div class="w" style="left:815.55px;top:246.32px;font-size:12.5px;line-height:12.5px;font-weight:400;font-style:normal;color:#000;transform:scaleX(1.0500);">422.09</div>
<div class="w" style="left:900.55px;top:246.32px;font-size:12.5px;line-height:12.5px;font-weight:400;font-style:normal;color:#000;transform:scaleX(1.0500);">423.82</div>
<div class="w" style="left:988.18px;top:246.32px;font-size:12.5px;line-height:12.5px;font-weight:400;font-style:normal;color:#000;transform:scaleX(1.0500);">-3.0%</div>
<div class="w" style="left:1072.92px;top:246.32px;font-size:12.5px;line-height:12.5px;font-weight:400;font-style:normal;color:#000;transform:scaleX(1.0500);">-0.4%</div>
<div class="w" style="left:665.67px;top:277.12px;font-size:12.5px;line-height:12.5px;font-weight:700;font-style:normal;color:#000;transform:scaleX(0.8280);-webkit-text-stroke:0.35px #000;">EUR</div>
<div class="w" style="left:730.03px;top:277.12px;font-size:12.5px;line-height:12.5px;font-weight:400;font-style:normal;color:#000;transform:scaleX(1.0500);">353.38</div>
<div class="w" style="left:815.03px;top:277.12px;font-size:12.5px;line-height:12.5px;font-weight:400;font-style:normal;color:#000;transform:scaleX(1.0500);">364.86</div>
<div class="w" style="left:900.03px;top:277.12px;font-size:12.5px;line-height:12.5px;font-weight:400;font-style:normal;color:#000;transform:scaleX(1.0500);">369.88</div>
<div class="w" style="left:988.18px;top:277.12px;font-size:12.5px;line-height:12.5px;font-weight:400;font-style:normal;color:#000;transform:scaleX(1.0500);">-3.1%</div>
<div class="w" style="left:1072.92px;top:277.12px;font-size:12.5px;line-height:12.5px;font-weight:400;font-style:normal;color:#000;transform:scaleX(1.0500);">-1.4%</div>
<div class="w" style="left:666.20px;top:307.92px;font-size:12.5px;line-height:12.5px;font-weight:700;font-style:normal;color:#000;transform:scaleX(0.9130);-webkit-text-stroke:0.35px #000;">JPY</div>
<div class="w" style="left:737.38px;top:307.92px;font-size:12.5px;line-height:12.5px;font-weight:400;font-style:normal;color:#000;transform:scaleX(1.0500);">1.93</div>
<div class="w" style="left:822.38px;top:307.92px;font-size:12.5px;line-height:12.5px;font-weight:400;font-style:normal;color:#000;transform:scaleX(1.0500);">1.99</div>
<div class="w" style="left:907.38px;top:307.92px;font-size:12.5px;line-height:12.5px;font-weight:400;font-style:normal;color:#000;transform:scaleX(1.0500);">2.02</div>
<div class="w" style="left:988.18px;top:307.92px;font-size:12.5px;line-height:12.5px;font-weight:400;font-style:normal;color:#000;transform:scaleX(1.0500);">-3.3%</div>
<div class="w" style="left:1072.92px;top:307.92px;font-size:12.5px;line-height:12.5px;font-weight:400;font-style:normal;color:#000;transform:scaleX(1.0500);">-1.2%</div>
<div class="w" style="left:809.30px;top:345.57px;font-size:13.5px;line-height:13.5px;font-weight:700;font-style:normal;color:#fff;transform:scaleX(1.0876);-webkit-text-stroke:0.35px #fff;">COMMODITY PRICES</div>
<div class="w" style="left:797.20px;top:379.14px;font-size:12px;line-height:12px;font-weight:700;font-style:normal;color:#000;transform:scaleX(1.0488);-webkit-text-stroke:0.35px #000;">Current</div>
<div class="w" style="left:865.07px;top:379.14px;font-size:12px;line-height:12px;font-weight:700;font-style:normal;color:#000;transform:scaleX(1.0327);-webkit-text-stroke:0.35px #000;">Previous</div>
<div class="w" style="left:931.20px;top:379.14px;font-size:12px;line-height:12px;font-weight:700;font-style:normal;color:#000;transform:scaleX(1.0421);-webkit-text-stroke:0.35px #000;">Year open</div>
<div class="w" style="left:1005.43px;top:379.14px;font-size:12px;line-height:12px;font-weight:700;font-style:normal;color:#000;transform:scaleX(0.9733);-webkit-text-stroke:0.35px #000;">Day's %</div>
<div class="w" style="left:1077.20px;top:379.14px;font-size:12px;line-height:12px;font-weight:700;font-style:normal;color:#000;transform:scaleX(0.9368);-webkit-text-stroke:0.35px #000;">YTD %</div>
<div class="w" style="left:658.10px;top:410.02px;font-size:12.5px;line-height:12.5px;font-weight:700;font-style:normal;color:#000;transform:scaleX(0.9861);-webkit-text-stroke:0.35px #000;">Gold (USD/Ounce)</div>
<div class="w" style="left:801.20px;top:410.02px;font-size:12.5px;line-height:12.5px;font-weight:400;font-style:normal;color:#000;transform:scaleX(1.1083);">4,853.50</div>
<div class="w" style="left:872.00px;top:410.02px;font-size:12.5px;line-height:12.5px;font-weight:400;font-style:normal;color:#000;transform:scaleX(1.0500);">5,004.30</div>
<div class="w" style="left:940.00px;top:410.02px;font-size:12.5px;line-height:12.5px;font-weight:400;font-style:normal;color:#000;transform:scaleX(1.0500);">4,363.90</div>
<div class="w" style="left:1024.80px;top:410.02px;font-size:12.5px;line-height:12.5px;font-weight:400;font-style:normal;color:#000;transform:scaleX(1.0500);">-3.0%</div>
<div class="w" style="left:1090.20px;top:410.02px;font-size:12.5px;line-height:12.5px;font-weight:400;font-style:normal;color:#000;transform:scaleX(1.0500);">11.2%</div>
<div class="w" style="left:651.50px;top:441.02px;font-size:12.5px;line-height:12.5px;font-weight:700;font-style:normal;color:#000;transform:scaleX(0.9750);-webkit-text-stroke:0.35px #000;">Copper (USD/Pound)</div>
<div class="w" style="left:829.20px;top:441.02px;font-size:12.5px;line-height:12.5px;font-weight:400;font-style:normal;color:#000;transform:scaleX(1.0500);">5.51</div>
<div class="w" style="left:897.20px;top:441.02px;font-size:12.5px;line-height:12.5px;font-weight:400;font-style:normal;color:#000;transform:scaleX(1.0500);">5.76</div>
<div class="w" style="left:965.20px;top:441.02px;font-size:12.5px;line-height:12.5px;font-weight:400;font-style:normal;color:#000;transform:scaleX(1.0500);">5.73</div>
<div class="w" style="left:1024.80px;top:441.02px;font-size:12.5px;line-height:12.5px;font-weight:400;font-style:normal;color:#000;transform:scaleX(1.0500);">-4.3%</div>
<div class="w" style="left:1092.30px;top:441.02px;font-size:12.5px;line-height:12.5px;font-weight:400;font-style:normal;color:#000;transform:scaleX(1.0500);">-3.8%</div>
<div class="w" style="left:648.50px;top:472.02px;font-size:12.5px;line-height:12.5px;font-weight:700;font-style:normal;color:#000;transform:scaleX(1.0040);-webkit-text-stroke:0.35px #000;">Aluminium (USD/MT)</div>
<div class="w" style="left:804.00px;top:472.02px;font-size:12.5px;line-height:12.5px;font-weight:400;font-style:normal;color:#000;transform:scaleX(1.0500);">3,400.00</div>
<div class="w" style="left:872.00px;top:472.02px;font-size:12.5px;line-height:12.5px;font-weight:400;font-style:normal;color:#000;transform:scaleX(1.0500);">3,426.00</div>
<div class="w" style="left:940.00px;top:472.02px;font-size:12.5px;line-height:12.5px;font-weight:400;font-style:normal;color:#000;transform:scaleX(1.0500);">2,945.00</div>
<div class="w" style="left:1024.80px;top:472.02px;font-size:12.5px;line-height:12.5px;font-weight:400;font-style:normal;color:#000;transform:scaleX(1.0500);">-0.8%</div>
<div class="w" style="left:1089.15px;top:472.02px;font-size:12.5px;line-height:12.5px;font-weight:400;font-style:normal;color:#000;transform:scaleX(1.0500);">15.4%</div>
<div class="w" style="left:645.50px;top:503.02px;font-size:12.5px;line-height:12.5px;font-weight:700;font-style:normal;color:#000;transform:scaleX(0.9739);-webkit-text-stroke:0.35px #000;">Crude Oil (USD/Barrel)</div>
<div class="w" style="left:821.85px;top:503.02px;font-size:12.5px;line-height:12.5px;font-weight:400;font-style:normal;color:#000;transform:scaleX(1.0500);">96.56</div>
<div class="w" style="left:889.85px;top:503.02px;font-size:12.5px;line-height:12.5px;font-weight:400;font-style:normal;color:#000;transform:scaleX(1.0500);">94.26</div>
<div class="w" style="left:957.85px;top:503.02px;font-size:12.5px;line-height:12.5px;font-weight:400;font-style:normal;color:#000;transform:scaleX(1.0500);">57.92</div>
<div class="w" style="left:1029.00px;top:503.02px;font-size:12.5px;line-height:12.5px;font-weight:400;font-style:normal;color:#000;transform:scaleX(1.0500);">2.4%</div>
<div class="w" style="left:1089.15px;top:503.02px;font-size:12.5px;line-height:12.5px;font-weight:400;font-style:normal;color:#000;transform:scaleX(1.0500);">66.7%</div>
<div class="w" style="left:653.60px;top:534.02px;font-size:12.5px;line-height:12.5px;font-weight:700;font-style:normal;color:#000;transform:scaleX(0.9700);-webkit-text-stroke:0.35px #000;">Cotton (USD/Pound)</div>
<div class="w" style="left:821.85px;top:534.02px;font-size:12.5px;line-height:12.5px;font-weight:400;font-style:normal;color:#000;transform:scaleX(1.0500);">68.62</div>
<div class="w" style="left:889.85px;top:534.02px;font-size:12.5px;line-height:12.5px;font-weight:400;font-style:normal;color:#000;transform:scaleX(1.0500);">68.83</div>
<div class="w" style="left:957.85px;top:534.02px;font-size:12.5px;line-height:12.5px;font-weight:400;font-style:normal;color:#000;transform:scaleX(1.0500);">64.68</div>
<div class="w" style="left:1024.80px;top:534.02px;font-size:12.5px;line-height:12.5px;font-weight:400;font-style:normal;color:#000;transform:scaleX(1.0500);">-0.3%</div>
<div class="w" style="left:1096.50px;top:534.02px;font-size:12.5px;line-height:12.5px;font-weight:400;font-style:normal;color:#000;transform:scaleX(1.0500);">6.1%</div>
<div class="w" style="left:654.42px;top:565.02px;font-size:12.5px;line-height:12.5px;font-weight:700;font-style:normal;color:#000;transform:scaleX(0.9842);-webkit-text-stroke:0.35px #000;">Sugar (USD/Pound)</div>
<div class="w" style="left:821.85px;top:565.02px;font-size:12.5px;line-height:12.5px;font-weight:400;font-style:normal;color:#000;transform:scaleX(1.0500);">14.82</div>
<div class="w" style="left:889.85px;top:565.02px;font-size:12.5px;line-height:12.5px;font-weight:400;font-style:normal;color:#000;transform:scaleX(1.0500);">14.47</div>
<div class="w" style="left:957.85px;top:565.02px;font-size:12.5px;line-height:12.5px;font-weight:400;font-style:normal;color:#000;transform:scaleX(1.0500);">14.86</div>
<div class="w" style="left:1029.00px;top:565.02px;font-size:12.5px;line-height:12.5px;font-weight:400;font-style:normal;color:#000;transform:scaleX(1.0500);">2.4%</div>
<div class="w" style="left:1092.30px;top:565.02px;font-size:12.5px;line-height:12.5px;font-weight:400;font-style:normal;color:#000;transform:scaleX(1.0500);">-0.3%</div>
<div class="w" style="left:656.51px;top:596.02px;font-size:12.5px;line-height:12.5px;font-weight:700;font-style:normal;color:#000;transform:scaleX(0.9917);-webkit-text-stroke:0.35px #000;">Palm Oil (USD/MT)</div>
<div class="w" style="left:802.95px;top:596.02px;font-size:12.5px;line-height:12.5px;font-weight:400;font-style:normal;color:#000;transform:scaleX(1.0500);">1,151.14</div>
<div class="w" style="left:872.00px;top:596.02px;font-size:12.5px;line-height:12.5px;font-weight:400;font-style:normal;color:#000;transform:scaleX(1.0500);">1,068.53</div>
<div class="w" style="left:950.50px;top:596.02px;font-size:12.5px;line-height:12.5px;font-weight:400;font-style:normal;color:#000;transform:scaleX(1.0500);">977.88</div>
<div class="w" style="left:1029.00px;top:596.02px;font-size:12.5px;line-height:12.5px;font-weight:400;font-style:normal;color:#000;transform:scaleX(1.0500);">7.7%</div>
<div class="w" style="left:1089.15px;top:596.02px;font-size:12.5px;line-height:12.5px;font-weight:400;font-style:normal;color:#000;transform:scaleX(1.0500);">17.7%</div>
<div class="w" style="left:93.60px;top:22.50px;font-size:44px;line-height:44px;font-weight:700;font-style:normal;color:#000;transform:scaleX(0.8835);-webkit-text-stroke:0.6px #000;">BRS</div>
<div class="w" style="left:184.25px;top:22.50px;font-size:44px;line-height:44px;font-weight:700;font-style:normal;color:#000;transform:scaleX(1.0030);-webkit-text-stroke:0.6px #000;">MORNING</div>
<div class="w" style="left:403.19px;top:22.50px;font-size:44px;line-height:44px;font-weight:700;font-style:normal;color:#000;transform:scaleX(0.9351);-webkit-text-stroke:0.6px #000;">MARKET</div>
<div class="w" style="left:589.58px;top:22.50px;font-size:44px;line-height:44px;font-weight:700;font-style:normal;color:#000;transform:scaleX(0.8724);-webkit-text-stroke:0.6px #000;">BRIEF</div>
<div class="w" style="left:93.54px;top:73.99px;font-size:32.5px;line-height:32.5px;font-weight:400;font-style:normal;color:#000;transform:scaleX(0.8317);">19.</div>
<div class="w" style="left:140.20px;top:73.99px;font-size:32.5px;line-height:32.5px;font-weight:400;font-style:normal;color:#000;transform:scaleX(1.0030);">03.</div>
<div class="w" style="left:192.97px;top:73.99px;font-size:32.5px;line-height:32.5px;font-weight:400;font-style:normal;color:#000;transform:scaleX(1.0652);">2026</div>
<svg style="position:absolute;left:0;top:0" width="1280" height="720" viewBox="0 0 1280 720"><circle cx="1189.75" cy="76.4" r="38.75" fill="#d42630"/><g transform="translate(1189.75,76.4) scale(1.0)"><path d="M-7.5,-25.000000000000007 H6.5499999999999545 A12.5,12.5 0 0 1 19.049999999999955,-12.500000000000007 V-10.0 A12.5,12.5 0 0 1 6.5499999999999545,2.5 H-7.5 A2.5,2.5 0 0 1 -10.0,0.0 V-22.500000000000007 A2.5,2.5 0 0 1 -7.5,-25.000000000000007 Z M-7.5,-5.650000000000006 H10.25 A14,14 0 0 1 24.25,8.349999999999994 V11.0 A14,14 0 0 1 10.25,25.0 H-7.5 A2.5,2.5 0 0 1 -10.0,22.5 V-3.1500000000000057 A2.5,2.5 0 0 1 -7.5,-5.650000000000006 Z" fill="#fff"/><path d="M-1.640000000000091,-17.500000000000007 H7.349999999999909 A5.5,5.5 0 0 1 12.849999999999909,-12.000000000000007 V-11.150000000000006 A5.5,5.5 0 0 1 7.349999999999909,-5.650000000000006 H-1.640000000000091 A0.01,0.01 0 0 1 -1.650000000000091,-5.6600000000000055 V-17.490000000000006 A0.01,0.01 0 0 1 -1.640000000000091,-17.500000000000007 Z M-1.640000000000091,2.5 H9.75 A6.5,6.5 0 0 1 16.25,9.0 V10.349999999999994 A6.5,6.5 0 0 1 9.75,16.849999999999994 H-1.640000000000091 A0.01,0.01 0 0 1 -1.650000000000091,16.839999999999993 V2.51 A0.01,0.01 0 0 1 -1.640000000000091,2.5 Z" fill="#d42630"/><polyline points="-16.25,-10.900000000000006 -24.549999999999955,-1.5 -16.25,7.8999999999999915" fill="none" stroke="#fff" stroke-width="7.6" stroke-linecap="round" stroke-linejoin="round"/><line x1="-23.75" y1="-1.2000000000000028" x2="-7.75" y2="-1.2000000000000028" stroke="#fff" stroke-width="7.4"/></g><defs><linearGradient id="bullg" gradientUnits="userSpaceOnUse" x1="1210" y1="0" x2="1280" y2="0"><stop offset="0" stop-color="#72e182"/><stop offset="1" stop-color="#44c76f"/></linearGradient><linearGradient id="bulll" gradientUnits="userSpaceOnUse" x1="1234" y1="190" x2="1250" y2="178"><stop offset="0" stop-color="#6ade80"/><stop offset="1" stop-color="#36b96b"/></linearGradient></defs><path d="M1225,128.3 C1228,125.5 1230,124.2 1231.7,124.2 C1235,124.2 1240,126.2 1243.3,126.2 C1248,126.2 1252,124.2 1258.3,124.2 C1266,124.2 1274,127.5 1280,131.7 L1280,187.5 C1276,192 1272,198 1269,203.5 C1266.5,208 1264.6,212 1264.2,214.2 L1263.75,215.8 L1263.3,219.6 L1251.7,219.2 C1254,217 1257,215 1259.6,213.75 C1261.5,209 1262.8,204 1263.3,198 C1263.2,194 1262.5,191.5 1261.7,190.8 C1258,188 1254.5,185 1252.5,181.5 C1250.5,178 1249,172 1248.3,165 C1248,162 1247.5,160 1246.7,159.2 C1245,157 1244,156.7 1243.3,156.7 C1240,156.8 1237.5,157.1 1237.5,157.1 C1233,158.5 1229,159.5 1225,160.4 C1221,161.2 1217,161.3 1214.2,160.4 C1212.8,159.8 1212.8,158.8 1213.3,158.3 C1214.5,156 1216,152 1216.7,150.8 C1217.5,147 1219,143 1221.7,139.2 C1222.5,135 1223.5,130 1225,128.3 Z" fill="url(#bullg)"/><path d="M1247.6,175.8 C1244,176.8 1239,179.5 1235.5,183.5 C1233.8,185.5 1233.8,187.5 1235.5,188.6 C1239,190.2 1244,192.5 1248.3,194.6 L1250.8,195.2 C1250.5,193.5 1249.5,192.5 1247.5,191.7 C1245,190 1243,188.5 1241.7,186.7 C1244,186 1248,185.2 1250,185 L1252.2,184.2 C1251.2,181.5 1249.8,178.3 1247.6,175.8 Z" fill="url(#bulll)"/><path d="M1244.2,201.7 C1245.5,199.5 1248.5,197.5 1251.7,196.7 C1253,197.5 1254,198.5 1253.75,199.2 C1253.3,200.3 1252.8,200.8 1252.5,200.8 C1249,201.5 1246.5,202 1244.2,201.7 Z" fill="#45c873"/><path d="M1206.25,130 C1208.5,133.5 1213,135.5 1221.5,135.2 L1222,139 C1214,139.3 1208.5,136.5 1206.25,130 Z" fill="#6ade80"/><path d="M1222.1,119.6 C1221.8,123 1223.5,125.5 1226,126.8 L1229.8,124.8 C1226.5,123.8 1223.8,122.2 1222.1,119.6 Z" fill="#3dba78"/><path d="M1260.8,176.3 C1261.6,180 1261.9,186 1261.7,190.8" fill="none" stroke="#fff" stroke-width="0.9"/><path d="M1257.8,214.4 L1263.8,214.6" fill="none" stroke="#fff" stroke-width="0.8"/><defs><linearGradient id="bearg" gradientUnits="userSpaceOnUse" x1="0" y1="0" x2="82" y2="0"><stop offset="0" stop-color="#d8304e"/><stop offset="1" stop-color="#f26e78"/></linearGradient><linearGradient id="bearleg" gradientUnits="userSpaceOnUse" x1="0" y1="556" x2="0" y2="590"><stop offset="0" stop-color="#c8203f"/><stop offset="0.5" stop-color="#dc3d55" stop-opacity="0"/></linearGradient></defs><path d="M0,507.9 C8,506.2 16,504.6 25,504.2 C33,504.5 41,509 46.7,513.3 C48.5,514.8 50,516 51.7,517.5 C53,517 55,517.3 58.3,518.75 C59.2,519.5 59.8,520.2 60,520.8 C64,524 69,527 74.2,531.7 C76.5,535 77.5,540 78.3,543.3 C79.2,545.5 80.5,547 81.25,548.3 C82,549.5 81.5,551 80,552 C79,553 78,553.3 77.5,553.3 L74.2,555 C73,556.5 72,557 71.7,556.7 C69,556.5 66,555.5 63.3,554.2 C60,553.5 56,553.3 53.3,553.3 C50,553.8 48,555 45,557.5 C47,565 49.5,575 54,578 C57,581 62,583 66.4,584.7 C68,586 68.6,587.5 68.6,588.3 L46.7,589.8 C45.5,587 45,585 44.5,584 C41,579 38,574 36.5,570.8 C34.5,566 33.5,562 32.8,560 C31,563 29.5,567 29.2,570 C27,575 25,579 24,582.5 C28,583 32,584 34.3,586.2 L35.7,589.8 L8.75,589.8 C8.6,582 8.6,572 8.75,565 C6,564.5 3,564 0,563.5 Z" fill="url(#bearg)"/><path d="M33,557 C37,568 41,577 46,584 L54,578 C50,572 48,565 46,557.5 Z" fill="url(#bearleg)" opacity="0.8"/><g fill="none" stroke="#fff" stroke-width="1.2" stroke-linecap="round"><path d="M34.2,522.5 C39,527 41.5,533 40.8,540 C40.5,547 37,552 33.3,557.5"/><path d="M51.7,519.2 C48.5,521 48.5,526 54.2,528.75"/><path d="M48.75,537 C48.8,543 49.5,547 53.3,552"/><path d="M10,545 C9.2,550 8.6,555 8.3,560"/><path d="M23,583 C26,582.5 30,583 33,585"/><path d="M45,584 C49,582.5 54,582.5 57,583.5"/><path d="M73.3,552.5 L75,554.5"/></g><circle cx="72.1" cy="537.1" r="0.9" fill="#fff"/></svg>
<svg style="position:absolute;left:0;top:0" width="1280" height="720" viewBox="0 0 1280 720"><defs><linearGradient id="band" x1="0" y1="0" x2="0" y2="1"><stop offset="0" stop-color="#e0242a"/><stop offset="0.6" stop-color="#d72127"/><stop offset="1" stop-color="#c11c22"/></linearGradient><filter id="fsh" x="-5%" y="-50%" width="110%" height="200%"><feGaussianBlur in="SourceAlpha" stdDeviation="5.5"/><feOffset dx="0" dy="-3"/><feComponentTransfer><feFuncA type="linear" slope="0.36"/></feComponentTransfer></filter></defs><path d="M0,636 H178 C192,636 204,641 211,651 C213.5,654 215.5,657 217,660.6 H1280 V720 H0 Z" fill="#000" filter="url(#fsh)"/><path d="M0,636 H178 C192,636 204,641 211,651 C213.5,654 215.5,657 217,660.6 H1280 V720 H0 Z" transform="translate(0,-1.8)" fill="#fff" fill-opacity="0.85"/><rect x="200" y="660.6" width="1080" height="44.2" fill="url(#band)"/><rect x="200" y="702.9" width="1080" height="1.9" fill="#b70b12"/><rect x="200" y="660.6" width="1080" height="1.8" fill="#ef252b"/><path d="M0,636 H178 C192,636 204,641 211,651 C218,661 223,675 229,687 C235,698 242,704.8 258,704.8 V720 H0 Z" fill="#fff"/><rect x="0" y="704.8" width="1280" height="16" fill="#fff"/><path transform="translate(22,658.6) scale(1.6280)" d="M0,0h1v1h-1zM1,0h1v1h-1zM2,0h1v1h-1zM3,0h1v1h-1zM4,0h1v1h-1zM5,0h1v1h-1zM6,0h1v1h-1zM8,0h1v1h-1zM9,0h1v1h-1zM10,0h1v1h-1zM11,0h1v1h-1zM12,0h1v1h-1zM14,0h1v1h-1zM15,0h1v1h-1zM18,0h1v1h-1zM19,0h1v1h-1zM20,0h1v1h-1zM21,0h1v1h-1zM22,0h1v1h-1zM23,0h1v1h-1zM24,0h1v1h-1zM0,1h1v1h-1zM6,1h1v1h-1zM8,1h1v1h-1zM9,1h1v1h-1zM10,1h1v1h-1zM12,1h1v1h-1zM13,1h1v1h-1zM15,1h1v1h-1zM16,1h1v1h-1zM18,1h1v1h-1zM24,1h1v1h-1zM0,2h1v1h-1zM2,2h1v1h-1zM3,2h1v1h-1zM4,2h1v1h-1zM6,2h1v1h-1zM11,2h1v1h-1zM15,2h1v1h-1zM18,2h1v1h-1zM20,2h1v1h-1zM21,2h1v1h-1zM22,2h1v1h-1zM24,2h1v1h-1zM0,3h1v1h-1zM2,3h1v1h-1zM3,3h1v1h-1zM4,3h1v1h-1zM6,3h1v1h-1zM9,3h1v1h-1zM10,3h1v1h-1zM11,3h1v1h-1zM13,3h1v1h-1zM14,3h1v1h-1zM18,3h1v1h-1zM20,3h1v1h-1zM21,3h1v1h-1zM22,3h1v1h-1zM24,3h1v1h-1zM0,4h1v1h-1zM2,4h1v1h-1zM3,4h1v1h-1zM4,4h1v1h-1zM6,4h1v1h-1zM8,4h1v1h-1zM15,4h1v1h-1zM18,4h1v1h-1zM20,4h1v1h-1zM21,4h1v1h-1zM22,4h1v1h-1zM24,4h1v1h-1zM0,5h1v1h-1zM6,5h1v1h-1zM8,5h1v1h-1zM9,5h1v1h-1zM12,5h1v1h-1zM13,5h1v1h-1zM14,5h1v1h-1zM15,5h1v1h-1zM16,5h1v1h-1zM18,5h1v1h-1zM24,5h1v1h-1zM0,6h1v1h-1zM1,6h1v1h-1zM2,6h1v1h-1zM3,6h1v1h-1zM4,6h1v1h-1zM5,6h1v1h-1zM6,6h1v1h-1zM12,6h1v1h-1zM13,6h1v1h-1zM14,6h1v1h-1zM18,6h1v1h-1zM19,6h1v1h-1zM20,6h1v1h-1zM21,6h1v1h-1zM22,6h1v1h-1zM23,6h1v1h-1zM24,6h1v1h-1zM10,7h1v1h-1zM14,7h1v1h-1zM15,7h1v1h-1zM16,7h1v1h-1zM0,8h1v1h-1zM5,8h1v1h-1zM6,8h1v1h-1zM8,8h1v1h-1zM11,8h1v1h-1zM12,8h1v1h-1zM15,8h1v1h-1zM16,8h1v1h-1zM17,8h1v1h-1zM20,8h1v1h-1zM24,8h1v1h-1zM1,9h1v1h-1zM2,9h1v1h-1zM7,9h1v1h-1zM10,9h1v1h-1zM11,9h1v1h-1zM12,9h1v1h-1zM13,9h1v1h-1zM15,9h1v1h-1zM16,9h1v1h-1zM17,9h1v1h-1zM19,9h1v1h-1zM20,9h1v1h-1zM23,9h1v1h-1zM3,10h1v1h-1zM4,10h1v1h-1zM5,10h1v1h-1zM6,10h1v1h-1zM8,10h1v1h-1zM9,10h1v1h-1zM12,10h1v1h-1zM16,10h1v1h-1zM18,10h1v1h-1zM19,10h1v1h-1zM0,11h1v1h-1zM5,11h1v1h-1zM7,11h1v1h-1zM12,11h1v1h-1zM16,11h1v1h-1zM17,11h1v1h-1zM18,11h1v1h-1zM19,11h1v1h-1zM20,11h1v1h-1zM21,11h1v1h-1zM0,12h1v1h-1zM3,12h1v1h-1zM6,12h1v1h-1zM8,12h1v1h-1zM9,12h1v1h-1zM12,12h1v1h-1zM13,12h1v1h-1zM15,12h1v1h-1zM16,12h1v1h-1zM17,12h1v1h-1zM19,12h1v1h-1zM21,12h1v1h-1zM22,12h1v1h-1zM23,12h1v1h-1zM1,13h1v1h-1zM5,13h1v1h-1zM6,13h1v1h-1zM7,13h1v1h-1zM9,13h1v1h-1zM10,13h1v1h-1zM11,13h1v1h-1zM14,13h1v1h-1zM15,13h1v1h-1zM19,13h1v1h-1zM20,13h1v1h-1zM22,13h1v1h-1zM23,13h1v1h-1zM2,14h1v1h-1zM4,14h1v1h-1zM6,14h1v1h-1zM7,14h1v1h-1zM10,14h1v1h-1zM11,14h1v1h-1zM13,14h1v1h-1zM14,14h1v1h-1zM15,14h1v1h-1zM16,14h1v1h-1zM17,14h1v1h-1zM18,14h1v1h-1zM19,14h1v1h-1zM21,14h1v1h-1zM23,14h1v1h-1zM24,14h1v1h-1zM0,15h1v1h-1zM1,15h1v1h-1zM2,15h1v1h-1zM5,15h1v1h-1zM6,15h1v1h-1zM8,15h1v1h-1zM10,15h1v1h-1zM11,15h1v1h-1zM13,15h1v1h-1zM17,15h1v1h-1zM21,15h1v1h-1zM22,15h1v1h-1zM23,15h1v1h-1zM24,15h1v1h-1zM0,16h1v1h-1zM2,16h1v1h-1zM3,16h1v1h-1zM4,16h1v1h-1zM8,16h1v1h-1zM9,16h1v1h-1zM10,16h1v1h-1zM11,16h1v1h-1zM12,16h1v1h-1zM13,16h1v1h-1zM14,16h1v1h-1zM18,16h1v1h-1zM20,16h1v1h-1zM21,16h1v1h-1zM22,16h1v1h-1zM23,16h1v1h-1zM24,16h1v1h-1zM8,17h1v1h-1zM9,17h1v1h-1zM10,17h1v1h-1zM17,17h1v1h-1zM18,17h1v1h-1zM20,17h1v1h-1zM23,17h1v1h-1zM0,18h1v1h-1zM1,18h1v1h-1zM2,18h1v1h-1zM3,18h1v1h-1zM4,18h1v1h-1zM5,18h1v1h-1zM6,18h1v1h-1zM14,18h1v1h-1zM15,18h1v1h-1zM16,18h1v1h-1zM17,18h1v1h-1zM18,18h1v1h-1zM24,18h1v1h-1zM0,19h1v1h-1zM6,19h1v1h-1zM8,19h1v1h-1zM9,19h1v1h-1zM10,19h1v1h-1zM12,19h1v1h-1zM15,19h1v1h-1zM16,19h1v1h-1zM17,19h1v1h-1zM22,19h1v1h-1zM23,19h1v1h-1zM24,19h1v1h-1zM0,20h1v1h-1zM2,20h1v1h-1zM3,20h1v1h-1zM4,20h1v1h-1zM6,20h1v1h-1zM9,20h1v1h-1zM11,20h1v1h-1zM12,20h1v1h-1zM13,20h1v1h-1zM15,20h1v1h-1zM18,20h1v1h-1zM19,20h1v1h-1zM22,20h1v1h-1zM23,20h1v1h-1zM24,20h1v1h-1zM0,21h1v1h-1zM2,21h1v1h-1zM3,21h1v1h-1zM4,21h1v1h-1zM6,21h1v1h-1zM11,21h1v1h-1zM13,21h1v1h-1zM14,21h1v1h-1zM15,21h1v1h-1zM16,21h1v1h-1zM17,21h1v1h-1zM18,21h1v1h-1zM19,21h1v1h-1zM20,21h1v1h-1zM21,21h1v1h-1zM23,21h1v1h-1zM0,22h1v1h-1zM2,22h1v1h-1zM3,22h1v1h-1zM4,22h1v1h-1zM6,22h1v1h-1zM10,22h1v1h-1zM11,22h1v1h-1zM12,22h1v1h-1zM13,22h1v1h-1zM14,22h1v1h-1zM16,22h1v1h-1zM18,22h1v1h-1zM19,22h1v1h-1zM21,22h1v1h-1zM22,22h1v1h-1zM0,23h1v1h-1zM6,23h1v1h-1zM8,23h1v1h-1zM11,23h1v1h-1zM12,23h1v1h-1zM14,23h1v1h-1zM15,23h1v1h-1zM16,23h1v1h-1zM17,23h1v1h-1zM20,23h1v1h-1zM22,23h1v1h-1zM24,23h1v1h-1zM0,24h1v1h-1zM1,24h1v1h-1zM2,24h1v1h-1zM3,24h1v1h-1zM4,24h1v1h-1zM5,24h1v1h-1zM6,24h1v1h-1zM8,24h1v1h-1zM9,24h1v1h-1zM10,24h1v1h-1zM11,24h1v1h-1zM12,24h1v1h-1zM13,24h1v1h-1zM14,24h1v1h-1zM15,24h1v1h-1zM19,24h1v1h-1zM20,24h1v1h-1zM22,24h1v1h-1zM23,24h1v1h-1zM24,24h1v1h-1z" fill="#111"/><circle cx="96.25" cy="678.85" r="22.05" fill="#e12328"/><g transform="translate(96.25,678.85) scale(0.57)"><path d="M-7.5,-25.000000000000007 H6.5499999999999545 A12.5,12.5 0 0 1 19.049999999999955,-12.500000000000007 V-10.0 A12.5,12.5 0 0 1 6.5499999999999545,2.5 H-7.5 A2.5,2.5 0 0 1 -10.0,0.0 V-22.500000000000007 A2.5,2.5 0 0 1 -7.5,-25.000000000000007 Z M-7.5,-5.650000000000006 H10.25 A14,14 0 0 1 24.25,8.349999999999994 V11.0 A14,14 0 0 1 10.25,25.0 H-7.5 A2.5,2.5 0 0 1 -10.0,22.5 V-3.1500000000000057 A2.5,2.5 0 0 1 -7.5,-5.650000000000006 Z" fill="#fff"/><path d="M-1.640000000000091,-17.500000000000007 H7.349999999999909 A5.5,5.5 0 0 1 12.849999999999909,-12.000000000000007 V-11.150000000000006 A5.5,5.5 0 0 1 7.349999999999909,-5.650000000000006 H-1.640000000000091 A0.01,0.01 0 0 1 -1.650000000000091,-5.6600000000000055 V-17.490000000000006 A0.01,0.01 0 0 1 -1.640000000000091,-17.500000000000007 Z M-1.640000000000091,2.5 H9.75 A6.5,6.5 0 0 1 16.25,9.0 V10.349999999999994 A6.5,6.5 0 0 1 9.75,16.849999999999994 H-1.640000000000091 A0.01,0.01 0 0 1 -1.650000000000091,16.839999999999993 V2.51 A0.01,0.01 0 0 1 -1.640000000000091,2.5 Z" fill="#e12328"/><polyline points="-16.25,-10.900000000000006 -24.549999999999955,-1.5 -16.25,7.8999999999999915" fill="none" stroke="#fff" stroke-width="7.6" stroke-linecap="round" stroke-linejoin="round"/><line x1="-23.75" y1="-1.2000000000000028" x2="-7.75" y2="-1.2000000000000028" stroke="#fff" stroke-width="7.4"/></g><g fill="none" stroke="#fff"><path d="M1125.5,683 C1125.5,674 1130.5,668.8 1137,668.8 C1143.5,668.8 1148.5,674 1148.5,683" stroke-width="2"/></g><g fill="#fff"><rect x="1123.2" y="680" width="5.2" height="10" rx="2"/><rect x="1145.5" y="680" width="5.2" height="10" rx="2"/><rect x="1127" y="679" width="2.5" height="12" rx="1"/><rect x="1144.5" y="679" width="2.5" height="12" rx="1"/><circle cx="1136.8" cy="677" r="4.3"/><path d="M1133.5,679.5 L1136.8,684 L1140.1,679.5 Z"/><rect x="1134.5" y="692.3" width="6" height="2.6" rx="1.3"/></g><path d="M1130.5,681 C1131,686 1133,687.5 1136.8,687 C1140.6,687.5 1142.6,686 1143.2,681" fill="none" stroke="#fff" stroke-width="1.6"/><path d="M1147.5,690 C1147.5,693 1144,693.6 1140,693.6" fill="none" stroke="#fff" stroke-width="1.4"/></svg>
<div class="w" style="left:123.95px;top:662.06px;font-size:18px;line-height:18px;font-weight:400;font-style:normal;color:#3a3a3a;transform:scaleX(1.2541);-webkit-text-stroke:0.5px #3a3a3a;">Bartleet</div>
<div class="w" style="left:131.16px;top:671.73px;font-size:23px;line-height:23px;font-weight:700;font-style:italic;color:#e3203c;transform:scaleX(1.0417);-webkit-text-stroke:0.35px #e3203c;">stock</div>
<div class="w" style="left:269.60px;top:676.07px;font-size:13.5px;line-height:13.5px;font-weight:700;font-style:normal;color:#fff;transform:scaleX(0.9521);-webkit-text-stroke:0px;">www.bartleetreligare.com</div>
<div class="w" style="left:1160.48px;top:668.34px;font-size:12px;line-height:12px;font-weight:400;font-style:normal;color:#fff;transform:scaleX(1.1222);-webkit-text-stroke:0.45px #fff;">Help Desk</div>
<div class="w" style="left:1161.60px;top:682.22px;font-size:12.5px;line-height:12.5px;font-weight:700;font-style:normal;color:#fff;transform:scaleX(0.9667);-webkit-text-stroke:0px;">+94 114 221 000</div>
</body></html>
